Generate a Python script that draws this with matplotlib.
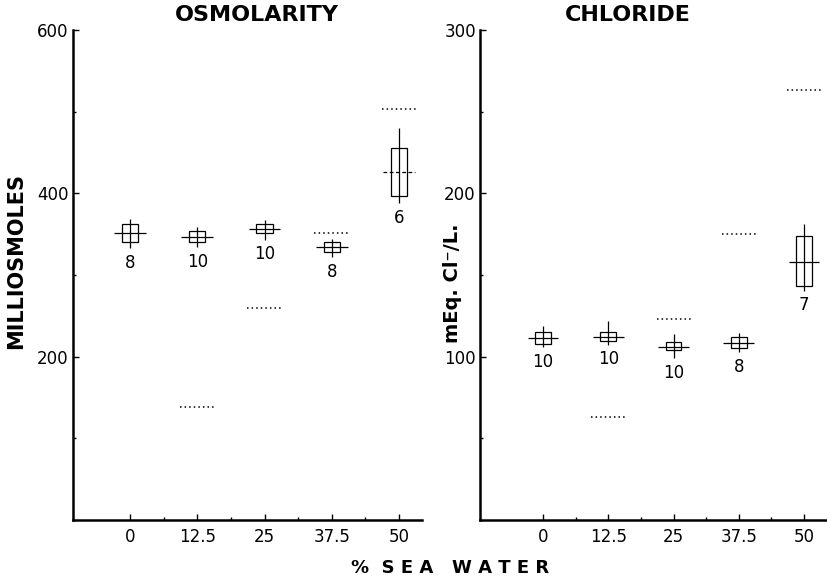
import numpy as np
import matplotlib
matplotlib.use('Agg')
import matplotlib.pyplot as plt
from matplotlib.patches import Rectangle

plt.rcParams['font.family'] = 'DejaVu Sans'

# ---------------------------------------------
# data
# ---------------------------------------------
PCT_LABELS = ['0', '12.5', '25', '37.5', '50']

# osmolarity, milliosmoles
osm_mean   = [351, 346, 356, 334, 426]
osm_box_lo = [341, 341, 352, 328, 397]
osm_box_hi = [362, 354, 362, 340, 456]
osm_bar_lo = [333, 334, 343, 322, 388]
osm_bar_hi = [368, 359, 367, 344, 480]
osm_n      = [8, 10, 10, 8, 6]
osm_sea    = [np.nan, 138, 260, 352, 503]

# chloride, mEq Cl-/L
cl_mean   = [111.4, 112.2, 106.1, 108.6, 158.1]
cl_box_lo = [107.8, 109.4, 104.1, 105.1, 143.4]
cl_box_hi = [114.9, 114.9, 109.2, 111.8, 173.6]
cl_bar_lo = [105.7, 107.2, 99.0, 102.6, 140.4]
cl_bar_hi = [118.8, 121.6, 113.9, 114.5, 181.5]
cl_n      = [10, 10, 10, 8, 7]
cl_sea    = [np.nan, 63, 123, 175, 263]


def draw_panel(ax, mean, box_lo, box_hi, bar_lo, bar_hi, n, sea, ymax,
               xlim, dashed_mean=()):
    x = np.arange(len(mean))
    bw, mw, sw = 0.24, 0.47, 0.52
    for i in x:
        ax.add_patch(Rectangle((i - bw / 2, box_lo[i]), bw,
                               box_hi[i] - box_lo[i], fill=False,
                               ec='black', lw=0.9))
        ax.vlines(i, bar_lo[i], bar_hi[i], color='black', lw=0.9)
        ls = (0, (3, 2)) if i in dashed_mean else 'solid'
        ax.hlines(mean[i], i - mw / 2, i + mw / 2, color='black', lw=0.9,
                  linestyles=[ls])
        ax.annotate(str(n[i]), (i, bar_lo[i]), xytext=(0, -10.5),
                    textcoords='offset points', ha='center', va='center',
                    fontsize=12)
    # sea water concentration
    ax.hlines(sea, x - sw / 2, x + sw / 2, colors='black', lw=1.1,
              linestyles=[(0, (1, 2))])

    ax.set_xlim(*xlim)
    ax.set_ylim(0, ymax)
    ax.set_xticks(x)
    ax.set_xticklabels(PCT_LABELS)
    ax.set_xticks(x[:-1] + 0.5, minor=True)
    ax.set_yticks([ymax / 3, 2 * ymax / 3, ymax])
    ax.set_yticklabels([str(int(v)) for v in [ymax / 3, 2 * ymax / 3, ymax]])
    ax.set_yticks([ymax / 6, ymax / 2, 5 * ymax / 6], minor=True)

    for s in ['top', 'right']:
        ax.spines[s].set_visible(False)
    for s in ['left', 'bottom']:
        ax.spines[s].set_linewidth(1.8)
    ax.tick_params(which='major', direction='in', length=4, width=1,
                   labelsize=12)
    ax.tick_params(which='minor', direction='in', length=2.5, width=1)
    ax.tick_params(axis='y', pad=3)
    ax.tick_params(axis='x', pad=6)


fig = plt.figure(figsize=(8.28, 5.82), dpi=100)
ax1 = fig.add_axes([0.0882, 0.1065, 0.4215, 0.842])
ax2 = fig.add_axes([0.5797, 0.1065, 0.4180, 0.842])

draw_panel(ax1, osm_mean, osm_box_lo, osm_box_hi, osm_bar_lo, osm_bar_hi,
           osm_n, osm_sea, 600, (-0.848, 4.342), dashed_mean=(4,))
draw_panel(ax2, cl_mean, cl_box_lo, cl_box_hi, cl_bar_lo, cl_bar_hi,
           cl_n, cl_sea, 300, (-0.966, 4.337))

ax1.text(-0.163, 0.529, 'MILLIOSMOLES', transform=ax1.transAxes,
         rotation=90, ha='center', va='center', fontsize=15,
         fontweight='bold')
ax2.text(-0.078, 0.484, 'mEq. Cl\u207b/L.', transform=ax2.transAxes,
         rotation=90, ha='center', va='center', fontsize=14,
         fontweight='bold')

fig.text(0.310, 0.974, 'OSMOLARITY', ha='center', va='center',
         fontsize=16, fontweight='bold')
fig.text(0.758, 0.974, 'CHLORIDE', ha='center', va='center',
         fontsize=16, fontweight='bold')
fig.text(0.5435, 0.024, '%  S E A   W A T E R', ha='center', va='center',
         fontsize=13, fontweight='bold')

plt.savefig('out.png', dpi=100)
